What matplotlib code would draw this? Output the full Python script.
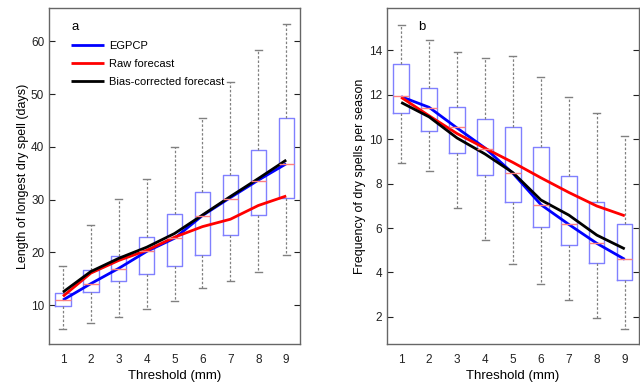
import matplotlib
matplotlib.use("Agg")
import matplotlib.pyplot as plt
import numpy as np

thresholds = [1, 2, 3, 4, 5, 6, 7, 8, 9]

# Panel a: length of longest dry spell (days)
a_whislo = [5.5, 6.6, 7.7, 9.3, 10.9, 13.3, 14.6, 16.3, 19.5]
a_q1     = [9.8, 12.5, 14.6, 15.9, 17.4, 19.5, 23.3, 27.1, 30.3]
a_med    = [11.0, 14.1, 16.9, 20.3, 22.7, 27.0, 30.1, 33.5, 36.8]
a_q3     = [12.4, 16.6, 19.4, 23.0, 27.2, 31.4, 34.6, 39.5, 45.5]
a_whishi = [17.4, 25.2, 30.2, 33.9, 40.0, 45.5, 52.2, 58.3, 63.2]
a_egpcp  = [11.0, 14.1, 17.0, 20.2, 22.7, 27.0, 30.4, 33.7, 36.8]
a_raw    = [11.7, 16.1, 18.5, 20.4, 22.9, 24.9, 26.3, 28.9, 30.7]
a_bc     = [12.5, 16.4, 18.9, 21.0, 23.6, 27.1, 30.6, 34.0, 37.5]

# Panel b: frequency of dry spells per season
b_whislo = [8.91, 8.58, 6.88, 5.44, 4.36, 3.50, 2.75, 1.94, 1.45]
b_q1     = [11.16, 10.38, 9.36, 8.38, 7.15, 6.03, 5.23, 4.43, 3.64]
b_med    = [11.94, 11.39, 10.53, 9.55, 8.46, 7.03, 6.16, 5.33, 4.59]
b_q3     = [13.37, 12.32, 11.43, 10.89, 10.56, 9.63, 8.35, 7.15, 6.19]
b_whishi = [15.15, 14.46, 13.91, 13.67, 13.76, 12.78, 11.90, 11.18, 10.13]
b_egpcp  = [11.91, 11.43, 10.50, 9.60, 8.46, 7.05, 6.16, 5.31, 4.59]
b_raw    = [11.88, 11.05, 10.25, 9.59, 8.95, 8.26, 7.60, 6.99, 6.55]
b_bc     = [11.65, 11.00, 10.05, 9.33, 8.49, 7.26, 6.58, 5.68, 5.06]

series_names = ["EGPCP", "Raw forecast", "Bias-corrected forecast"]
series_colors = ["#0000ff", "#ff0000", "#000000"]

plt.rcParams['font.family'] = ['Liberation Sans', 'DejaVu Sans']
fig = plt.figure(figsize=(6.4, 3.82), dpi=100)
ax1 = fig.add_axes([0.0766, 0.0995, 0.3924, 0.8795])
ax2 = fig.add_axes([0.605, 0.0995, 0.393, 0.8795])

def draw(ax, lo, q1, med, q3, hi, lines, ylim, yticks, ylabel, letter, letter_x, ylpad, legend):
    stats = [dict(whislo=l, q1=a, med=m, q3=b, whishi=h) for l, a, m, b, h in zip(lo, q1, med, q3, hi)]
    ax.bxp(stats, positions=thresholds, widths=0.55, showfliers=False,
           boxprops=dict(color='#8080ff', lw=1.0),
           medianprops=dict(color='#ff8080', lw=1.0),
           whiskerprops=dict(color='#808080', lw=0.9, linestyle=(0, (2.0, 1.5))),
           capprops=dict(color='#808080', lw=1.0), capwidths=0.25)
    for vals, name, col in zip(lines, series_names, series_colors):
        ax.plot(thresholds, vals, color=col, lw=2.0, label=name, solid_capstyle='butt')
    ax.set_xlim(0.5, 9.5)
    ax.set_ylim(*ylim)
    ax.set_yticks(yticks)
    ax.set_xticks(thresholds)
    ax.set_xticklabels([str(t) for t in thresholds])
    ax.tick_params(axis='x', length=0, labelsize=8.5, pad=7, colors='#222222')
    ax.tick_params(axis='y', direction='in', length=4, right=True, labelsize=8.5, colors='#222222', width=0.8)
    for s in ax.spines.values():
        s.set_color('#666666')
        s.set_linewidth(1.0)
    ax.set_xlabel("Threshold (mm)", fontsize=9.5, labelpad=3)
    ax.set_ylabel(ylabel, fontsize=9, labelpad=ylpad)
    ax.text(letter_x, 0.945, letter, transform=ax.transAxes, fontsize=9.5, va='center', ha='left')
    if legend:
        ax.legend(loc='upper left', bbox_to_anchor=(0.07, 0.915), frameon=False, fontsize=8,
                  handlelength=3.0, handletextpad=0.45, labelspacing=0.72, borderaxespad=0)

draw(ax1, a_whislo, a_q1, a_med, a_q3, a_whishi, [a_egpcp, a_raw, a_bc],
     (2.67, 66.3), [10, 20, 30, 40, 50, 60], "Length of longest dry spell (days)", "a", 0.09, 1.5, True)
draw(ax2, b_whislo, b_q1, b_med, b_q3, b_whishi, [b_egpcp, b_raw, b_bc],
     (0.78, 15.9), [2, 4, 6, 8, 10, 12, 14], "Frequency of dry spells per season", "b", 0.125, 2.5, False)

fig.savefig("out.png", dpi=100)
